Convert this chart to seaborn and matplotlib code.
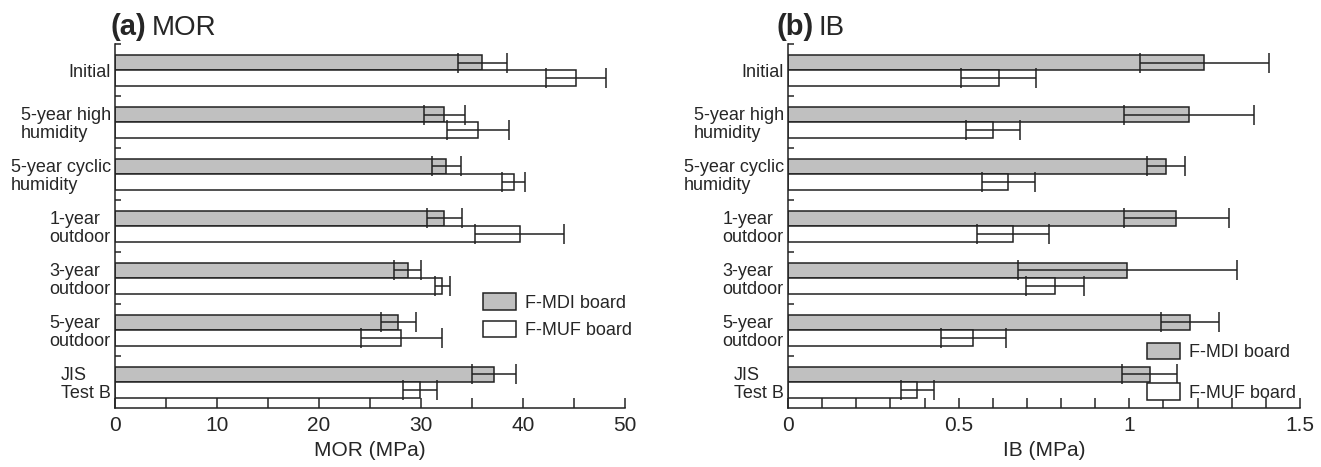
import pandas as pd
import matplotlib.pyplot as plt
import seaborn as sns
import numpy as np
from matplotlib.ticker import MultipleLocator, FixedLocator
from matplotlib.patches import Patch

conditions = ["Initial", "5-year high\nhumidity", "5-year cyclic\nhumidity", "1-year\noutdoor",
              "3-year\noutdoor", "5-year\noutdoor", "JIS\nTest B"]
boards = ["F-MDI board", "F-MUF board"]

# MOR (MPa)
mor_mdi = [36.0, 32.3, 32.5, 32.3, 28.7, 27.8, 37.2]
mor_mdi_sd = [2.4, 2.0, 1.4, 1.7, 1.35, 1.75, 2.15]
mor_muf = [45.2, 35.6, 39.1, 39.7, 32.1, 28.1, 29.9]
mor_muf_sd = [2.95, 3.0, 1.15, 4.35, 0.75, 3.95, 1.65]

# IB (MPa)
ib_mdi = [1.22, 1.174, 1.108, 1.138, 0.994, 1.179, 1.06]
ib_mdi_sd = [0.19, 0.19, 0.055, 0.155, 0.32, 0.085, 0.08]
ib_muf = [0.617, 0.601, 0.646, 0.659, 0.783, 0.543, 0.379]
ib_muf_sd = [0.11, 0.08, 0.078, 0.105, 0.085, 0.095, 0.048]

sns.set_style("ticks")
plt.rcParams['font.family'] = ['Liberation Sans', 'DejaVu Sans']

colors = {"F-MDI board": "#c0c0c0", "F-MUF board": "white"}


def make_df(a, b):
    return pd.DataFrame({
        "cond": conditions * 2,
        "board": [boards[0]] * 7 + [boards[1]] * 7,
        "value": list(a) + list(b),
    })


def panel(ax, df, sds, xmax, major, minor, xlabel):
    sns.barplot(data=df, y="cond", x="value", hue="board", hue_order=boards, order=conditions,
                orient="h", width=0.6, palette=colors, edgecolor="#222222", linewidth=1.1,
                errorbar=None, ax=ax, legend=False)
    for cont, sd in zip(ax.containers, sds):
        xs = [b.get_width() for b in cont]
        ys = [b.get_y() + b.get_height() / 2 for b in cont]
        ax.errorbar(xs, ys, xerr=sd, fmt="none", ecolor="#222222", elinewidth=1.1,
                    capsize=7, capthick=1.1)
    ax.set_xlim(0, xmax)
    ax.set_ylim(6.5, -0.5)
    ax.xaxis.set_major_locator(MultipleLocator(major))
    ax.xaxis.set_minor_locator(MultipleLocator(minor))
    ax.yaxis.set_minor_locator(FixedLocator(np.arange(-0.5, 6.0, 1.0)))
    ax.tick_params(axis="x", which="both", direction="in", length=7, width=1.1, labelsize=15, pad=6)
    ax.tick_params(axis="y", which="major", length=0, labelsize=13, pad=3)
    ax.tick_params(axis="y", which="minor", direction="in", length=4, width=1.1)
    for lab in ax.get_yticklabels():
        lab.set_multialignment("left")
        lab.set_linespacing(1.05)
    ax.set_xlabel(xlabel, fontsize=15, labelpad=4)
    ax.set_ylabel("")
    for s in ["top", "right"]:
        ax.spines[s].set_visible(False)
    for s in ["left", "bottom"]:
        ax.spines[s].set_linewidth(1.1)
        ax.spines[s].set_color("#222222")


fig = plt.figure(figsize=(13.21, 4.67), dpi=100)
ax1 = fig.add_axes([0.087, 0.126, 0.386, 0.779])
ax2 = fig.add_axes([0.5965, 0.126, 0.3876, 0.779])

panel(ax1, make_df(mor_mdi, mor_muf), [mor_mdi_sd, mor_muf_sd], 50, 10, 5, "MOR (MPa)")
panel(ax2, make_df(ib_mdi, ib_muf), [ib_mdi_sd, ib_muf_sd], 1.5, 0.5, 0.1, "IB (MPa)")
ax2.xaxis.set_major_formatter(plt.FuncFormatter(lambda v, p: f"{v:g}"))

handles = [Patch(facecolor=colors[b], edgecolor="#222222", linewidth=1.1, label=b) for b in boards]
ax1.legend(handles=handles, loc="upper left", bbox_to_anchor=(0.69, 0.36), frameon=False,
           fontsize=13, handlelength=1.8, handleheight=1.0, labelspacing=0.5, handletextpad=0.5)
ax2.legend(handles=handles, loc="upper left", bbox_to_anchor=(0.67, 0.225), frameon=False,
           fontsize=13, handlelength=1.8, handleheight=1.0, labelspacing=1.25, handletextpad=0.5)

fig.text(0.084, 0.925, "(a)", fontsize=21, fontweight="bold", va="baseline")
fig.text(0.1145, 0.925, "MOR", fontsize=20, va="baseline")
fig.text(0.588, 0.925, "(b)", fontsize=21, fontweight="bold", va="baseline")
fig.text(0.6195, 0.925, "IB", fontsize=20, va="baseline")

fig.savefig("out.png", dpi=100)
